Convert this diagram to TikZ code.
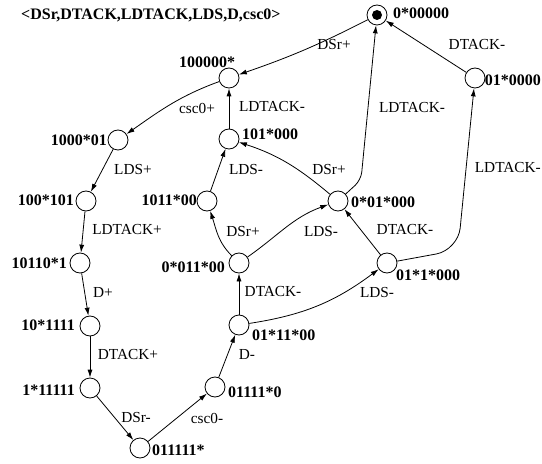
\documentclass[tikz,border=0pt]{standalone}
\usepackage{fontspec}
\setmainfont{Liberation Serif}
\usetikzlibrary{arrows.meta}
\begin{document}
\begin{tikzpicture}[x=1bp,y=-1bp,
  st/.style={circle,draw,line width=0.8bp,minimum size=20bp,inner sep=0pt},
  sl/.style={font=\fontsize{16bp}{18bp}\selectfont\bfseries,inner sep=0pt},
  el/.style={font=\fontsize{15.3bp}{18bp}\selectfont,inner sep=0pt},
  tr/.style={-{Latex[length=8bp,width=5bp]},line width=0.8bp},
]
\useasboundingbox (0,0) rectangle (542,464);

% title
\node[sl,anchor=west] (title) at (21,15) {<DSr,DTACK,LDTACK,LDS,D,csc0>};

% states
\node[st] (s0) at (377,15) {};
\node[circle,fill,minimum size=10bp,inner sep=0pt] (s0in) at (s0) {};
\node[st] (s1) at (229,78) {};
\node[st] (s2) at (475,78) {};
\node[st] (s3) at (118,140) {};
\node[st] (s4) at (229,139) {};
\node[st] (s5) at (86,201) {};
\node[st] (s6) at (207,201) {};
\node[st] (s7) at (338,201) {};
\node[st] (s8) at (80,263) {};
\node[st] (s9) at (239,263) {};
\node[st] (s10) at (387,263) {};
\node[st] (s11) at (90,326) {};
\node[st] (s12) at (239,325) {};
\node[st] (s13) at (90,388) {};
\node[st] (s14) at (215,387) {};
\node[st] (s15) at (140,448) {};

% state labels
\node[sl,anchor=west] (l0) at (393,13) {0*00000};
\node[sl] (l1) at (207,62) {100000*};
\node[sl,anchor=east] (l2) at (541,80) {01*0000};
\node[sl,anchor=east] (l3) at (107,140) {1000*01};
\node[sl,anchor=west] (l4) at (242,134) {101*000};
\node[sl,anchor=east] (l5) at (74,200) {100*101};
\node[sl,anchor=east] (l6) at (197,200) {1011*00};
\node[sl,anchor=west] (l7) at (351,202) {0*01*000};
\node[sl,anchor=east] (l8) at (67,263) {10110*1};
\node[sl,anchor=east] (l9) at (225,267) {0*011*00};
\node[sl,anchor=west] (l10) at (396,275) {01*1*000};
\node[sl,anchor=east] (l11) at (75,325) {10*1111};
\node[sl,anchor=west] (l12) at (252,335) {01*11*00};
\node[sl,anchor=east] (l13) at (75,390) {1*11111};
\node[sl,anchor=west] (l14) at (228,392) {01111*0};
\node[sl,anchor=west] (l15) at (152,450) {011111*};

% helper coordinates
\coordinate (k1) at (361,180);
\coordinate (k2) at (458,250);

% transitions
\draw[tr] (s0) to[bend left=4] (s1);
\draw[tr] (s2) -- (s0);
\draw[tr] (s1) to[out=200,in=35] (s3);
\draw[tr] (s3) -- (s5);
\draw[tr] (s5) -- (s8);
\draw[tr] (s8) -- (s11);
\draw[tr] (s11) -- (s13);
\draw[tr] (s13) -- (s15);
\draw[tr] (s15) -- (s14);
\draw[tr] (s14) -- (s12);
\draw[tr] (s12) -- (s9);
\draw[tr] (s12) to[bend right=14] (s10);
\draw[tr] (s9) to[out=135,in=-72] (s6);
\draw[tr] (s9) to[out=35,in=200] (s7);
\draw[tr] (s10) -- (s7);
\draw[tr,rounded corners=22bp] (s10) -- (k2) -- (s2);
\draw[tr] (s6) -- (s4);
\draw[tr] (s7) to[out=140,in=-18] (s4);
\draw[tr,rounded corners=8bp] (s7) -- (k1) -- (s0);
\draw[tr] (s4) -- (s1);

% transition labels
\node[el] (e1) at (197,108) {csc0+};
\node[el] (e2) at (334,45) {DSr+};
\node[el] (e3) at (477,45) {DTACK-};
\node[el] (e4) at (133,170) {LDS+};
\node[el] (e5) at (127,230) {LDTACK+};
\node[el] (e6) at (103,293) {D+};
\node[el] (e7) at (128,355) {DTACK+};
\node[el] (e8) at (136,418) {DSr-};
\node[el] (e9) at (207,418) {csc0-};
\node[el] (e10) at (247,355) {D-};
\node[el] (e11) at (273,292) {DTACK-};
\node[el] (e12) at (377,293) {LDS-};
\node[el] (e13) at (243,232) {DSr+};
\node[el] (e14) at (321,232) {LDS-};
\node[el] (e15) at (405,230) {DTACK-};
\node[el,anchor=east] (e16) at (541,168) {LDTACK-};
\node[el] (e17) at (246,170) {LDS-};
\node[el] (e18) at (329,170) {DSr+};
\node[el] (e19) at (412,108) {LDTACK-};
\node[el] (e20) at (272,107) {LDTACK-};
\end{tikzpicture}
\end{document}
